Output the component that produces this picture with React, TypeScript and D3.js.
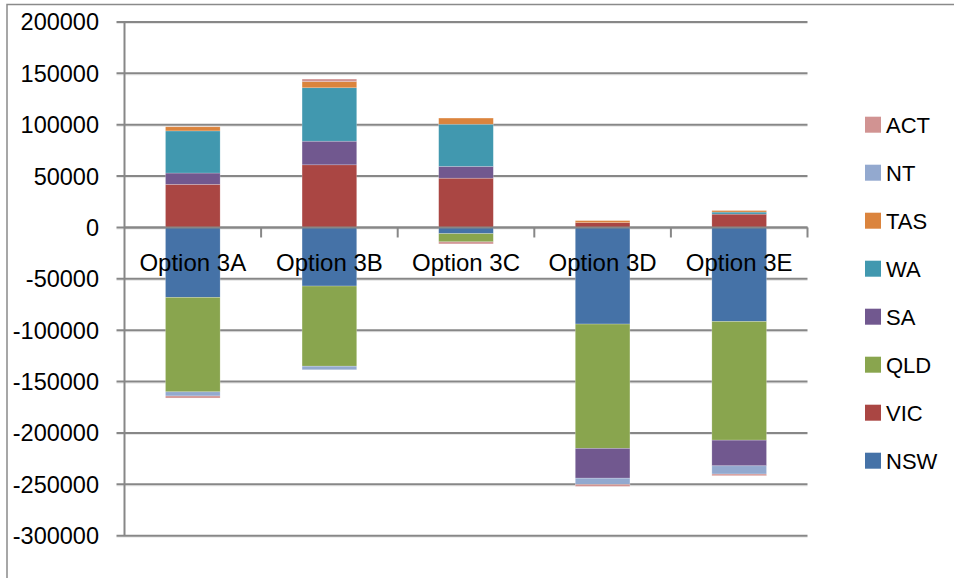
import React from "react";
import * as d3 from "d3";

// Categories and series (stacked: positives up, negatives down)
const categories = ["Option 3A", "Option 3B", "Option 3C", "Option 3D", "Option 3E"];
const seriesNames = ["NSW", "VIC", "QLD", "SA", "WA", "TAS", "NT", "ACT"];

const NSW = [-68000, -57000, -6000, -94000, -91500];
const VIC = [42000, 61000, 48000, 4700, 13000];
const QLD = [-92000, -78000, -8000, -121000, -115500];
const SA = [11000, 23000, 11500, -29000, -25000];
const WA = [41000, 52000, 41000, 0, 2000];
const TAS = [4000, 6000, 6000, 2000, 1500];
const NT = [-4000, -3500, 0, -6000, -8000];
const ACT = [-2000, 2500, -2000, -2000, -1600];

const yTicks = [200000, 150000, 100000, 50000, 0, -50000, -100000, -150000, -200000, -250000, -300000];

const colors: Record<string, string> = {
  NSW: "#4572A7",
  VIC: "#AA4643",
  QLD: "#89A54E",
  SA: "#71588F",
  WA: "#4198AF",
  TAS: "#DB843D",
  NT: "#93A9CF",
  ACT: "#D19392",
};

const W = 954;
const H = 578;
const plot = { left: 124.5, right: 807.5, top: 22, bottom: 535.7 };
const FONT = "'Liberation Sans', Arial, sans-serif";
const GRID = "#878787";

export default function App() {
  const valuesBySeries: Record<string, number[]> = { NSW, VIC, QLD, SA, WA, TAS, NT, ACT };
  const rows = categories.map((c, i) => {
    const r: Record<string, any> = { category: c };
    seriesNames.forEach((s) => (r[s] = valuesBySeries[s][i]));
    return r;
  });

  const stacked = d3
    .stack<Record<string, any>>()
    .keys(seriesNames)
    .offset(d3.stackOffsetDiverging)(rows);

  const x = d3
    .scaleBand<string>()
    .domain(categories)
    .range([plot.left, plot.right])
    .paddingInner(0.6)
    .paddingOuter(0.3);

  const xOuter = d3.scaleBand<string>().domain(categories).range([plot.left, plot.right]);

  const y = d3.scaleLinear().domain([-300000, 200000]).range([plot.bottom, plot.top]);
  const y0 = y(0);

  const boundaries = categories.map((c) => (xOuter(c) as number) + xOuter.bandwidth());

  const legendOrder = [...seriesNames].reverse();

  return (
    <svg
      width={W}
      height={H}
      style={{ position: "absolute", left: 0, top: 0, background: "#fff" }}
      fontFamily={FONT}
    >
      {/* chart frame */}
      <rect x={7} y={4.5} width={1000} height={700} fill="#fff" stroke="#8a8a8a" strokeWidth={1.5} />

      {/* gridlines with tick stubs */}
      {yTicks.map((t) => (
        <g key={t}>
          <line x1={plot.left - 8} x2={plot.right} y1={y(t) + 1.5} y2={y(t) + 1.5} stroke="#e6e6e6" strokeWidth={1} />
          <line x1={plot.left - 8} x2={plot.right} y1={y(t)} y2={y(t)} stroke={GRID} strokeWidth={2} />
          <text
            x={99}
            y={y(t)}
            dy="0.36em"
            textAnchor="end"
            fontSize={23.5}
            fill="#000"
          >
            {t}
          </text>
        </g>
      ))}

      {/* value axis */}
      <line x1={plot.left} x2={plot.left} y1={plot.top} y2={plot.bottom} stroke={GRID} strokeWidth={2} />

      {/* stacked bars */}
      {stacked.map((layer) => (
        <g key={layer.key} fill={colors[layer.key]}>
          {layer.map((d, i) => {
            const top = y(Math.max(d[0], d[1]));
            const bot = y(Math.min(d[0], d[1]));
            const h = bot - top;
            if (h <= 0) return null;
            return (
              <rect
                key={i}
                x={x(categories[i])}
                y={top}
                width={x.bandwidth()}
                height={h}
                stroke="#ffffff"
                strokeOpacity={0.35}
                strokeWidth={0.6}
              />
            );
          })}
        </g>
      ))}

      {/* category axis at zero */}
      <line x1={plot.left} x2={plot.right} y1={y0} y2={y0} stroke={GRID} strokeWidth={2} />
      {boundaries.map((bx, i) => (
        <line key={i} x1={bx} x2={bx} y1={y0} y2={y0 + 10} stroke={GRID} strokeWidth={2} />
      ))}
      {categories.map((c) => (
        <text
          key={c}
          x={(xOuter(c) as number) + xOuter.bandwidth() / 2}
          y={271}
          textAnchor="middle"
          fontSize={24}
          fill="#000"
        >
          {c}
        </text>
      ))}

      {/* legend */}
      {legendOrder.map((s, i) => {
        const cy = 124.7 + i * 48;
        return (
          <g key={s}>
            <rect x={865} y={cy - 8} width={16} height={16} fill={colors[s]} />
            <text x={886} y={cy} dy="0.36em" fontSize={22} fill="#000">
              {s}
            </text>
          </g>
        );
      })}
    </svg>
  );
}
